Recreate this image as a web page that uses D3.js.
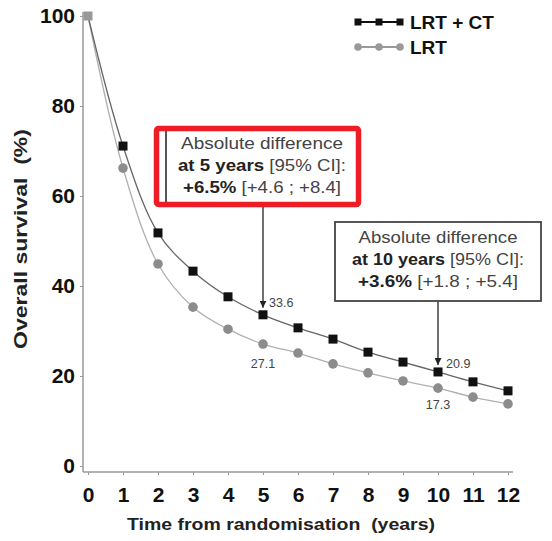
<!DOCTYPE html>
<html>
<head>
<meta charset="utf-8">
<script src="https://cdn.jsdelivr.net/npm/d3@7"></script>
<style>
  body { margin: 0; background: #fff; }
  text { font-family: "Liberation Sans", Arial, sans-serif; }
</style>
</head>
<body>
<svg id="chart" width="552" height="541"></svg>
<script>
// survival curves
const years = [0, 1, 2, 3, 4, 5, 6, 7, 8, 9, 10, 11, 12];
const lrtCt = [100, 71.1, 51.8, 43.3, 37.6, 33.6, 30.7, 28.2, 25.3, 23.1, 20.9, 18.7, 16.7];
const lrt = [100, 66.2, 44.9, 35.3, 30.4, 27.1, 25.1, 22.7, 20.7, 18.9, 17.3, 15.3, 13.8];
const yTicks = [0, 20, 40, 60, 80, 100];
const seriesNames = ["LRT + CT", "LRT"];

const svg = d3.select("#chart");

const x = d3.scaleLinear().domain([0, 12]).range([88, 508]);
const y = d3.scaleLinear().domain([0, 100]).range([466, 16]);

const axisColor = "#9a9a9a";

// axes
const yAxis = svg.append("g").attr("transform", "translate(83,0)")
  .call(d3.axisLeft(y).tickValues(yTicks).tickSize(3).tickPadding(5));
yAxis.select(".domain").attr("d", "M0,12V472");
const xAxis = svg.append("g").attr("transform", "translate(0,472)")
  .call(d3.axisBottom(x).tickValues(years).tickSize(3).tickPadding(12));
xAxis.select(".domain").attr("d", "M83,0H513");

[yAxis, xAxis].forEach(a => {
  a.select(".domain").attr("stroke", axisColor).attr("stroke-width", 1.5);
  a.selectAll(".tick line").attr("stroke", axisColor);
  a.selectAll(".tick text")
    .attr("font-size", 21).attr("font-weight", "bold").attr("fill", "#111")
    .style("font-family", "'Liberation Sans', Arial, sans-serif");
});

// axis titles (the original type is a bit wider than the font, so fix the length)
svg.append("text")
  .attr("x", 281).attr("y", 530)
  .attr("text-anchor", "middle")
  .attr("font-size", 17).attr("font-weight", "bold").attr("fill", "#222")
  .attr("xml:space", "preserve")
  .attr("textLength", 308).attr("lengthAdjust", "spacingAndGlyphs")
  .text("Time from randomisation  (years)");

svg.append("text")
  .attr("transform", "translate(27,239) rotate(-90)")
  .attr("text-anchor", "middle")
  .attr("font-size", 18).attr("font-weight", "bold").attr("fill", "#222")
  .attr("xml:space", "preserve")
  .attr("textLength", 220).attr("lengthAdjust", "spacingAndGlyphs")
  .text("Overall survival  (%)");

// lines
const line = d3.line().x((d, i) => x(years[i])).y(d => y(d)).curve(d3.curveCatmullRom.alpha(0.5));

svg.append("path").datum(lrt)
  .attr("d", line).attr("fill", "none").attr("stroke", "#b0b0b0").attr("stroke-width", 1.3);
svg.append("path").datum(lrtCt)
  .attr("d", line).attr("fill", "none").attr("stroke", "#666").attr("stroke-width", 1.3);

svg.selectAll(".sq").data(lrtCt).enter().append("rect")
  .attr("x", (d, i) => x(years[i]) - 4.5).attr("y", d => y(d) - 4.5)
  .attr("width", 9).attr("height", 9)
  .attr("fill", (d, i) => i === 0 ? "#999" : "#111");

svg.selectAll(".dot").data(lrt.slice(1)).enter().append("circle")
  .attr("cx", (d, i) => x(years[i + 1])).attr("cy", d => y(d))
  .attr("r", 4.8).attr("fill", "#8c8c8c");

// value labels
const labels = [
  {t: 5, v: lrtCt[5], dx: 6, dy: -8, anchor: "start"},
  {t: 5, v: lrt[5], dx: 0, dy: 24, anchor: "middle"},
  {t: 10, v: lrtCt[10], dx: 8, dy: -4, anchor: "start"},
  {t: 10, v: lrt[10], dx: 0, dy: 21, anchor: "middle"}
];
svg.selectAll(".lbl").data(labels).enter().append("text")
  .attr("x", d => x(d.t) + d.dx).attr("y", d => y(d.v) + d.dy)
  .attr("text-anchor", d => d.anchor)
  .attr("font-size", 12.5).attr("fill", "#444")
  .text(d => d.v.toFixed(1));

// arrows
svg.append("defs").append("marker")
  .attr("id", "arr").attr("viewBox", "0 0 10 10")
  .attr("refX", 10).attr("refY", 5)
  .attr("markerWidth", 7).attr("markerHeight", 7)
  .attr("markerUnits", "userSpaceOnUse")
  .attr("orient", "auto")
  .append("path").attr("d", "M0,0L10,5L0,10Z").attr("fill", "#222");

// annotation boxes
const boxes = [
  {t: 5, v: lrtCt[5], x0: 166, x1: 358, y0: 128, y1: 206, cx: 262, widths: [162, 168, 158],
   lines: [["Absolute difference", ""], ["at 5 years", " [95% CI]:"], ["+6.5%", " [+4.6 ; +8.4]"]]},
  {t: 10, v: lrtCt[10], x0: 335, x1: 541, y0: 222, y1: 301, cx: 438, widths: [159, 172, 160],
   lines: [["Absolute difference", ""], ["at 10 years", " [95% CI]:"], ["+3.6%", " [+1.8 ; +5.4]"]]}
];

boxes.forEach(b => {
  svg.append("line")
    .attr("x1", x(b.t)).attr("x2", x(b.t))
    .attr("y1", b.y1).attr("y2", y(b.v) - 7)
    .attr("stroke", "#222").attr("stroke-width", 1.3)
    .attr("marker-end", "url(#arr)");
  svg.append("rect")
    .attr("x", b.x0).attr("y", b.y0)
    .attr("width", b.x1 - b.x0).attr("height", b.y1 - b.y0)
    .attr("fill", "#fff").attr("stroke", "#444").attr("stroke-width", 1.8);
  b.lines.forEach((ln, j) => {
    const tx = svg.append("text")
      .attr("x", b.cx).attr("y", b.y0 + 21 + j * 22)
      .attr("text-anchor", "middle")
      .attr("font-size", 16.5).attr("fill", "#444")
      .attr("xml:space", "preserve")
      .attr("textLength", b.widths[j]).attr("lengthAdjust", "spacingAndGlyphs");
    if (j === 0) {
      tx.text(ln[0]);
    } else {
      tx.append("tspan").attr("font-weight", "bold").attr("fill", "#222").text(ln[0]);
      tx.append("tspan").text(ln[1]);
    }
  });
});

// red highlight around first box
svg.append("rect")
  .attr("x", 156.5).attr("y", 128.5)
  .attr("width", 202).attr("height", 76)
  .attr("rx", 2)
  .attr("fill", "none").attr("stroke", "#ee1c24").attr("stroke-width", 5.5);

// legend
const legend = svg.append("g");
seriesNames.forEach((name, i) => {
  const ly = 22 + i * 25;
  legend.append("line")
    .attr("x1", 358).attr("x2", 400).attr("y1", ly).attr("y2", ly)
    .attr("stroke", i === 0 ? "#111" : "#999").attr("stroke-width", 2);
  [358, 379, 400].forEach(px => {
    if (i === 0) {
      legend.append("rect").attr("x", px - 3.5).attr("y", ly - 3.5)
        .attr("width", 7).attr("height", 7).attr("fill", "#111");
    } else {
      legend.append("circle").attr("cx", px).attr("cy", ly).attr("r", 3.8).attr("fill", "#999");
    }
  });
  legend.append("text")
    .attr("x", 410).attr("y", ly + 6.5)
    .attr("font-size", 19).attr("font-weight", "bold").attr("fill", "#111")
    .text(name);
});
</script>
</body>
</html>
